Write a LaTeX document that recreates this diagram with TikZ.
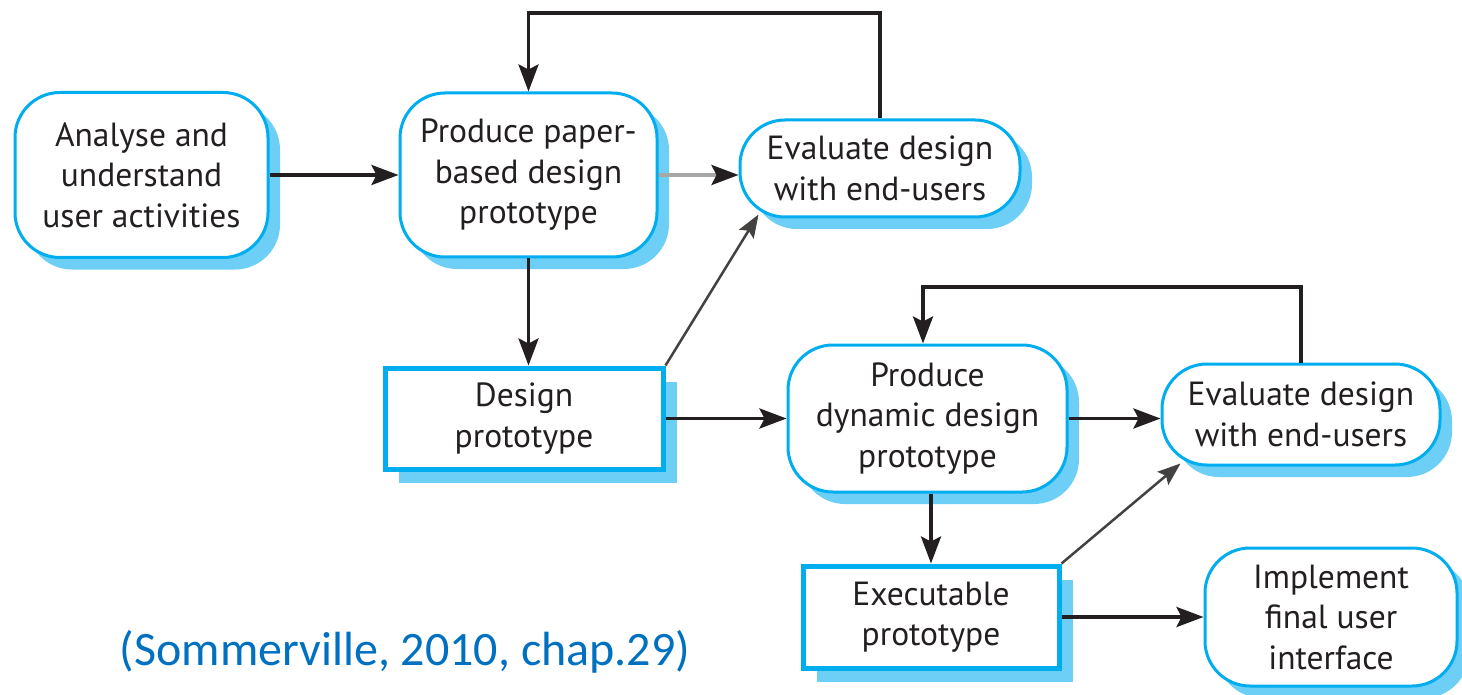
\documentclass[tikz,border=0pt]{standalone}
\usepackage{fontspec}
\setmainfont{PT Sans}
\newfontfamily\citefont{Carlito}
\usetikzlibrary{shadows,arrows.meta}
\definecolor{bord}{HTML}{00AEEF}
\definecolor{shad}{HTML}{6DCFF6}
\definecolor{citeblue}{HTML}{0070C0}
\definecolor{ink}{HTML}{231F20}
\definecolor{lgray}{HTML}{A7A7A7}
\tikzset{
  procbox/.style={draw=bord, line width=3pt, fill=white, rounded corners=45pt,
    drop shadow={shadow xshift=12pt, shadow yshift=-12pt, fill=shad, opacity=1},
    align=center, inner sep=0pt, text=ink, font=\fontsize{33.5}{40.5}\selectfont},
  docbox/.style={draw=bord, line width=5pt, fill=white,
    drop shadow={shadow xshift=14pt, shadow yshift=-14pt, fill=shad, opacity=1},
    align=center, inner sep=0pt, text=ink, font=\fontsize{33.5}{40.5}\selectfont},
  flow/.style={draw=ink, line width=3.5pt, -{Stealth[length=27pt,width=20pt,inset=5pt]}},
  thinflow/.style={draw=ink!85, line width=2.5pt, -{Stealth[length=23pt,width=17pt,inset=4pt]}},
}
\begin{document}
\begin{tikzpicture}[x=1pt,y=-1pt]
\useasboundingbox[fill=white] (0,0) rectangle (1462,695);

\node[procbox, minimum width=253pt, minimum height=165pt] (a) at (141.5,175) {Analyse and\\understand\\user activities};
\node[procbox, minimum width=257pt, minimum height=164pt] (p) at (528.5,175) {Produce paper-\\based design\\prototype};
\node[procbox, minimum width=280pt, minimum height=97pt] (e1) at (880,168.5) {Evaluate design\\with end-users};
\node[docbox, minimum width=278pt, minimum height=101pt] (d) at (524,418.5) {Design\\prototype};
\node[procbox, minimum width=279pt, minimum height=147pt] (y) at (927.5,418.5) {Produce\\dynamic design\\prototype};
\node[procbox, minimum width=278pt, minimum height=101pt] (e2) at (1301,414.5) {Evaluate design\\with end-users};
\node[docbox, minimum width=256pt, minimum height=102pt] (x) at (931,617) {Executable\\prototype};
\node[procbox, minimum width=252pt, minimum height=138pt] (im) at (1331,617) {Implement\\final user\\interface};

\node[font=\citefont\fontsize{48}{56}\selectfont, text=citeblue, inner sep=0pt] (cite) at (405,652) {(Sommerville, 2010, chap.29)};

\coordinate (t1) at (0,13);
\coordinate (t2) at (0,287);

\draw[flow] (a.east) -- (p.west);
\draw[line width=3.5pt, draw=lgray, -{Stealth[length=27pt,width=20pt,inset=5pt,color=ink]}] (p.east) -- (p.east -| e1.west);
\draw[flow] (e1.north) -- (e1.north |- t1) -- (p.north |- t1) -- (p.north);
\draw[flow] (p.south) -- (p.south |- d.north);
\draw[thinflow] (d.north east) -- ([shift={(20,-4)}]e1.south west);
\draw[flow] (d.east) -- (y.west);
\draw[flow] (y.east) -- (y.east -| e2.west);
\draw[flow] (e2.north) -- (e2.north |- t2) -- ([xshift=-4.5pt]y.north |- t2) -- ([xshift=-4.5pt]y.north);
\draw[flow] (y.south -| x.north) -- (x.north);
\draw[thinflow] (x.north east) -- ([shift={(20,-3)}]e2.south west);
\draw[flow] (x.east) -- (im.west);
\end{tikzpicture}
\end{document}
